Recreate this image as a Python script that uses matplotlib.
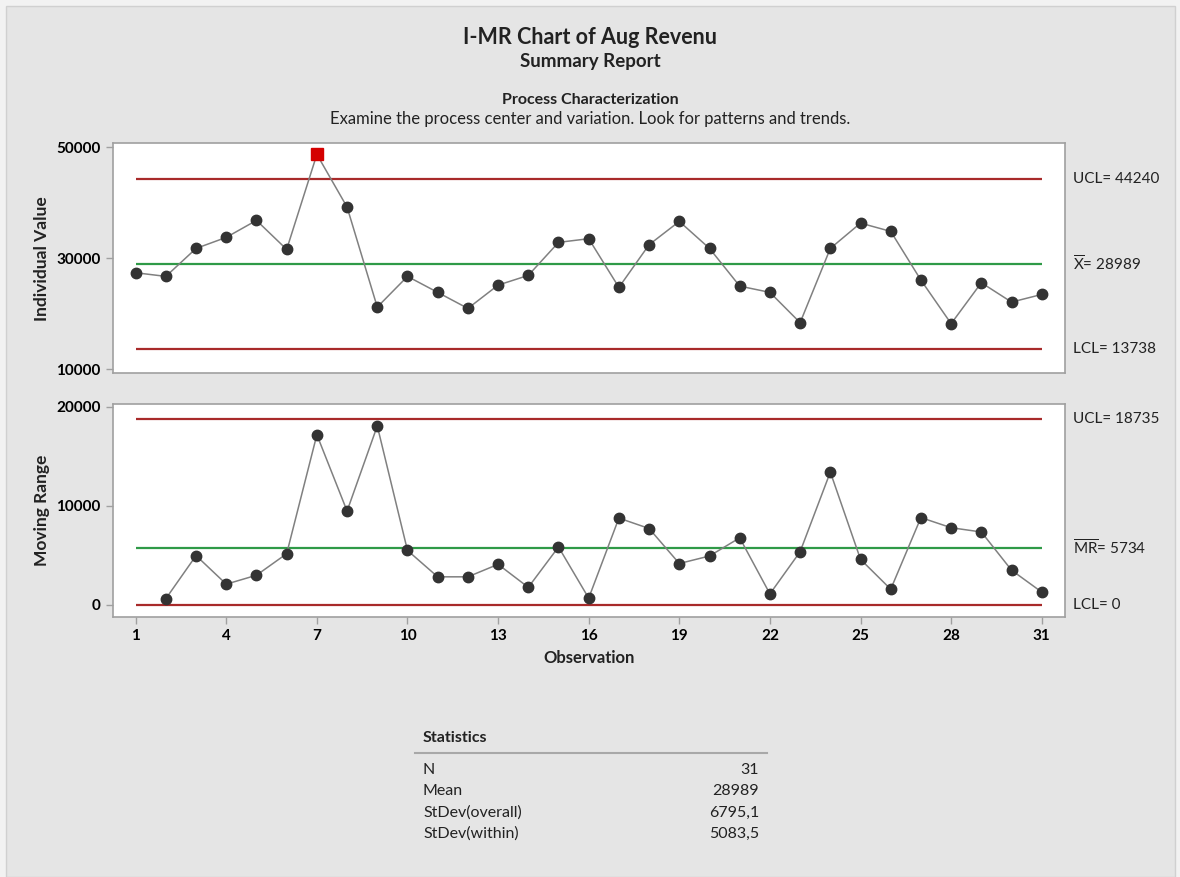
import matplotlib
matplotlib.use("Agg")
import matplotlib.pyplot as plt
from matplotlib.lines import Line2D
from matplotlib.patches import Rectangle

plt.rcParams['font.family'] = ['Lato', 'DejaVu Sans']
plt.rcParams['mathtext.fontset'] = 'custom'
plt.rcParams['mathtext.rm'] = 'Lato'
plt.rcParams['mathtext.it'] = 'Lato:italic'
plt.rcParams['mathtext.bf'] = 'Lato:bold'

# ---------------- data ----------------
observations = list(range(1, 32))
individual_values = [27400, 26740, 31780, 33770, 36830, 31600, 48720, 39230, 21210, 26740,
                     23860, 20970, 25170, 26920, 32870, 33530, 24760, 32450, 36650, 31780,
                     24990, 23860, 18400, 31780, 36340, 34850, 26070, 18220, 25600, 22110,
                     23490]
mr_observations = list(range(2, 32))
moving_ranges = [640, 4980, 2100, 3000, 5170, 17160, 9470, 18050, 5500, 2840,
                 2840, 4100, 1780, 5850, 690, 8760, 7710, 4180, 4940, 6770,
                 1120, 5370, 13400, 4600, 1590, 8810, 7790, 7360, 3510, 1300]
out_of_control = [7]

i_ucl, i_cl, i_lcl = 44240, 28989, 13738
mr_ucl, mr_cl, mr_lcl = 18735, 5734, 0

x_ticks = [1, 4, 7, 10, 13, 16, 19, 22, 25, 28, 31]
i_yticks = [10000, 30000, 50000]
mr_yticks = [0, 10000, 20000]

stat_names = ["N", "Mean", "StDev(overall)", "StDev(within)"]
stat_values = ["31", "28989", "6795,1", "5083,5"]

# ---------------- figure ----------------
W, H = 1180, 877
fig = plt.figure(figsize=(W / 100, H / 100), dpi=100, facecolor='#f2f2f2')

def fx(x):
    return x / W

def fy(y):
    return 1 - y / H

# gray panel
fig.patches.append(Rectangle((fx(6), fy(877)), fx(1175) - fx(6), fy(6) - fy(877),
                             transform=fig.transFigure, facecolor='#e5e5e5',
                             edgecolor='#d0d0d0', lw=1, zorder=-10))

RED = '#a82a2a'
GREEN = '#2f9a47'
PT = '#333333'
LN = '#808080'
SPINE = '#a0a0a0'
TXT = '#222222'

def make_ax(top, bottom):
    ax = fig.add_axes([fx(112.7), fy(bottom), fx(1065) - fx(112.7), fy(top) - fy(bottom)])
    ax.set_facecolor('white')
    for s in ax.spines.values():
        s.set_color(SPINE)
        s.set_linewidth(1.2)
    ax.tick_params(axis='both', colors=SPINE, length=5, width=1, labelcolor='black',
                   labelsize=11)
    ax.set_xlim(0.24, 31.77)
    return ax

# ---------- Individuals chart ----------
ax1 = make_ax(143.3, 373.3)
ax1.set_ylim(9280, 50720)
ax1.set_yticks(i_yticks)
ax1.set_yticklabels([str(v) for v in i_yticks], fontweight='bold')
ax1.set_xticks([])
ax1.hlines([i_ucl, i_lcl], observations[0], observations[-1], colors=RED, lw=1.6, zorder=2)
ax1.hlines([i_cl], observations[0], observations[-1], colors=GREEN, lw=1.6, zorder=2)
ax1.plot(observations, individual_values, color=LN, lw=1.1, zorder=3)
normal = [(o, v) for o, v in zip(observations, individual_values) if o not in out_of_control]
bad = [(o, v) for o, v in zip(observations, individual_values) if o in out_of_control]
ax1.plot([p[0] for p in normal], [p[1] for p in normal], 'o', color=PT, ms=7.5,
         mec=PT, zorder=4)
ax1.plot([p[0] for p in bad], [p[1] for p in bad], 's', color='#d40000', ms=8.5,
         mec='#d40000', zorder=5)
ax1.set_ylabel('Individual Value', fontsize=12.5, fontweight='bold', color=TXT)

# ---------- Moving range chart ----------
ax2 = make_ax(404, 617.3)
ax2.set_ylim(-1240, 20261)
ax2.set_yticks(mr_yticks)
ax2.set_yticklabels([str(v) for v in mr_yticks], fontweight='bold')
ax2.set_xticks(x_ticks)
ax2.set_xticklabels([str(v) for v in x_ticks], fontweight='bold')
ax2.hlines([mr_ucl, mr_lcl], observations[0], observations[-1], colors=RED, lw=1.6, zorder=2)
ax2.hlines([mr_cl], observations[0], observations[-1], colors=GREEN, lw=1.6, zorder=2)
ax2.plot(mr_observations, moving_ranges, color=LN, lw=1.1, zorder=3)
ax2.plot(mr_observations, moving_ranges, 'o', color=PT, ms=7.5, mec=PT, zorder=4)
ax2.set_ylabel('Moving Range', fontsize=12.5, fontweight='bold', color=TXT)
ax2.set_xlabel('Observation', fontsize=12, fontweight='bold', color=TXT, labelpad=5)

# align y labels at pixel x=42
ax1.yaxis.set_label_coords(-(112.7 - 42) / (1065 - 112.7), 0.5)
ax2.yaxis.set_label_coords(-(112.7 - 42) / (1065 - 112.7), 0.5)
ax1.yaxis.label.set_va('center')
ax2.yaxis.label.set_va('center')

# ---------- right-side limit labels ----------
def right_label(ax, val, txt):
    ax.annotate(txt, xy=(1, val), xycoords=('axes fraction', 'data'),
                xytext=(8, 0), textcoords='offset pixels', ha='left', va='center',
                fontsize=11, color=TXT, annotation_clip=False)

right_label(ax1, i_ucl, f'UCL= {i_ucl}')
right_label(ax1, i_cl, r'$\overline{\mathrm{X}}$' + f'= {i_cl}')
right_label(ax1, i_lcl, f'LCL= {i_lcl}')
right_label(ax2, mr_ucl, f'UCL= {mr_ucl}')
right_label(ax2, mr_cl, r'$\overline{\mathrm{MR}}$' + f'= {mr_cl}')
right_label(ax2, mr_lcl, f'LCL= {mr_lcl}')

# ---------- titles ----------
fig.text(fx(590), fy(38), 'I-MR Chart of Aug Revenu', ha='center', va='center',
         fontsize=15.5, fontweight='bold', color=TXT)
fig.text(fx(590), fy(62), 'Summary Report', ha='center', va='center',
         fontsize=13.5, fontweight='bold', color=TXT)
fig.text(fx(590), fy(100), 'Process Characterization', ha='center', va='center',
         fontsize=11.5, fontweight='bold', color=TXT)
fig.text(fx(590), fy(119), 'Examine the process center and variation. Look for patterns and trends.',
         ha='center', va='center', fontsize=12, color=TXT)

# ---------- statistics table ----------
fig.text(fx(423), fy(738), 'Statistics', ha='left', va='center', fontsize=11.5,
         fontweight='bold', color=TXT)
fig.add_artist(Line2D([fx(415), fx(767)], [fy(753), fy(753)], color='#a8a8a8', lw=1.5,
                      transform=fig.transFigure))
row_y = [770, 791, 813, 834]
for name, val, y in zip(stat_names, stat_values, row_y):
    fig.text(fx(423), fy(y), name, ha='left', va='center', fontsize=11.5, color=TXT)
    fig.text(fx(759), fy(y), val, ha='right', va='center', fontsize=11.5, color=TXT)

fig.savefig('out.png', dpi=100, facecolor=fig.get_facecolor())
